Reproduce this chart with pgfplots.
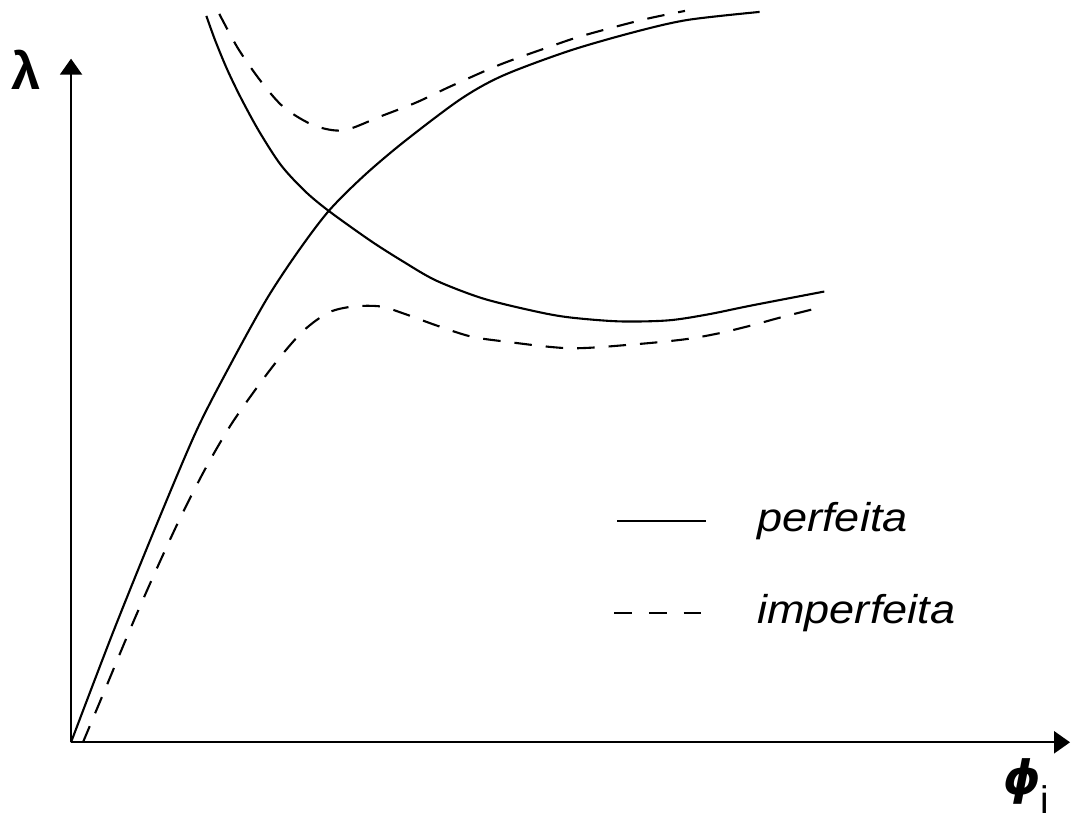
\documentclass[border=0pt]{standalone}
\usepackage{pgfplots}
\pgfplotsset{compat=1.18}
\usepackage{graphicx}
\usepackage{fontspec}
\setmainfont{Liberation Sans}
\newfontfamily\symfont{DejaVu Sans}
\usetikzlibrary{arrows.meta}

% Perfect structure: primary (rising) and secondary (descending) branches
\pgfplotstableread{
x y
0 0
42 110
84 214
126 313
162 383
197 446
228 493
259 534
294 569
334 603
391 646
434 670
501 695
567 714
620 726
692 734
}\perfA
\pgfplotstableread{
x y
136 730
145 705
157 676
171 647
189 614
211 580
235 554
259 534
301 504
334 483
367 464
414 446
467 433
501 427
551 423
600 424
640 430
684 439
757 453
}\perfB
% Imperfect structure: lower and upper branches
\pgfplotstableread{
x y
12 0
35 55
60 115
85 172
110 226
135 275
160 318
185 354
210 387
234 414
259 432
284 438
311 438
334 431
367 419
401 408
434 403
501 396
567 400
617 405
651 411
684 419
717 428
757 438
}\impA
\pgfplotstableread{
x y
149 732
168 697
191 664
214 638
244 620
274 615
311 629
347 643
381 659
431 681
481 699
514 710
574 726
617 735
}\impB

\begin{document}
\begin{tikzpicture}
\begin{axis}[
  x=0.01cm, y=0.01cm,
  xmin=0, xmax=1004, ymin=0, ymax=687,
  axis lines*=left,
  axis line style={line width=0.65pt,-{Triangle[length=0.16cm,width=0.22cm]}},
  xtick=\empty, ytick=\empty,
  clip=false,
]
\path (axis cs:-66,-69) rectangle (axis cs:1013,746);

\addplot[black, line width=0.6pt, smooth] table {\perfA};
\addplot[black, line width=0.6pt, smooth] table {\perfB};
\addplot[black, line width=0.6pt, smooth, dash pattern=on 5pt off 4pt] table {\impA};
\addplot[black, line width=0.6pt, smooth, dash pattern=on 5pt off 4pt] table {\impB};

% legend
\draw[black, line width=0.6pt] (axis cs:549,222) -- (axis cs:638,222);
\draw[black, line width=0.7pt, dash pattern=on 5.1pt off 4.8pt] (axis cs:546,130) -- (axis cs:635,130);
\node[anchor=west, inner sep=0pt] at (axis cs:689,222)
  {\fontsize{11.5}{14}\selectfont\scalebox{1.12}[1]{\itshape perfeita}};
\node[anchor=west, inner sep=0pt] at (axis cs:689,130)
  {\fontsize{11.5}{14}\selectfont\scalebox{1.12}[1]{\itshape imperfeita}};

% axis labels
\node at (axis cs:-45,676) {\fontsize{15}{18}\selectfont\bfseries λ};
\node at (axis cs:956,-39) {\fontsize{13.5}{16}\selectfont\symfont\bfseries\itshape ϕ};
\node at (axis cs:979,-58) {\fontsize{11}{13}\selectfont i};
\end{axis}
\end{tikzpicture}
\end{document}
